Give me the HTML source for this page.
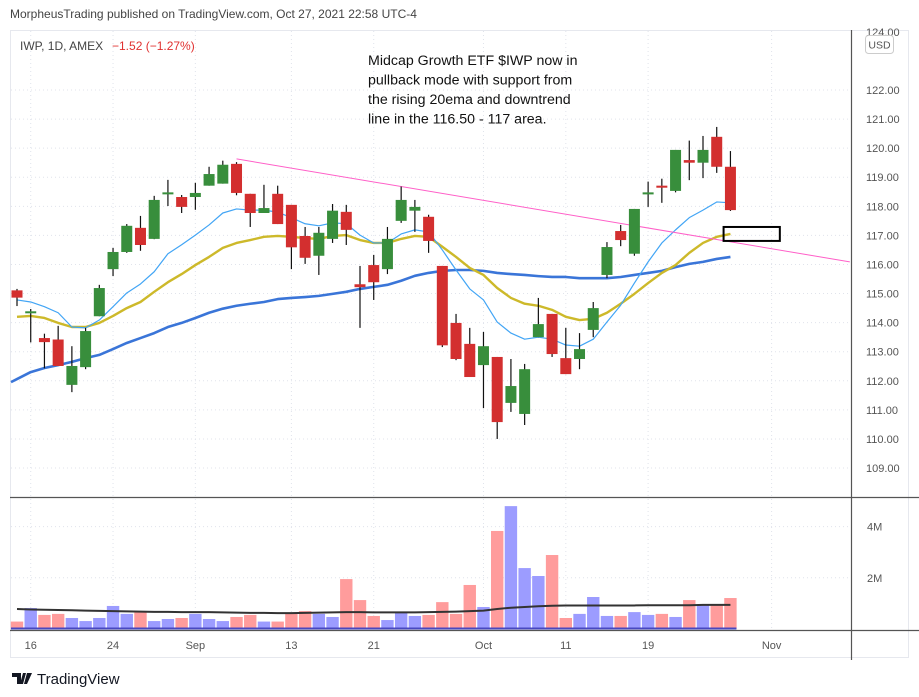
<!DOCTYPE html>
<html><head><meta charset="utf-8"><style>
html,body{margin:0;padding:0;background:#fff;width:919px;height:697px;overflow:hidden}
svg{display:block;font-family:"Liberation Sans",sans-serif}
</style></head><body>
<svg id="chart" width="919" height="697" viewBox="0 0 919 697" xmlns="http://www.w3.org/2000/svg">
<text x="10" y="18" font-size="12" fill="#444">MorpheusTrading published on TradingView.com, Oct 27, 2021 22:58 UTC-4</text>
<rect x="10.5" y="30.5" width="898" height="627" fill="none" stroke="#e6e8ee"/>
<g id="grid"></g>
<g id="vol"></g>
<g id="price"></g>
<line x1="10" y1="497.5" x2="919" y2="497.5" stroke="#555" stroke-width="1.2"/>
<line x1="10" y1="630.5" x2="919" y2="630.5" stroke="#555" stroke-width="1.2"/>
<line x1="851.5" y1="30" x2="851.5" y2="660" stroke="#555" stroke-width="1.2"/>
<g id="axes"></g>
<text x="20" y="50" font-size="12" fill="#444">IWP, 1D, AMEX</text>
<text x="112" y="50" font-size="12" fill="#e0302f">−1.52 (−1.27%)</text>
<g font-size="14.2" fill="#111">
<text x="368" y="65">Midcap Growth ETF $IWP now in</text>
<text x="368" y="84.5">pullback mode with support from</text>
<text x="368" y="104">the rising 20ema and downtrend</text>
<text x="368" y="123.5">line in the 116.50 - 117 area.</text>
</g>
<rect x="865.5" y="35.5" width="28" height="18" rx="3" fill="#fff" stroke="#ccc"/>
<text x="879.5" y="48.5" font-size="10.5" fill="#555" text-anchor="middle">USD</text>
<g>
<path d="M12 673h9v11h-4v-7h-5z M23 673h3l-3 11h-3z M27 673h5l-5 11h-3z" fill="#131722"/>
<text x="37" y="684" font-size="15" fill="#131722">TradingView</text>
</g>
</svg>
<script>
const opens=[115.11,114.35,113.47,113.42,111.86,112.47,114.22,115.84,116.43,117.26,116.88,118.43,118.32,118.32,118.71,118.78,119.46,118.43,117.77,118.43,118.05,116.98,116.30,116.88,117.81,115.32,115.98,115.84,117.50,117.85,117.64,115.95,113.99,113.27,112.54,112.82,111.24,110.86,113.50,114.30,112.78,112.75,113.75,115.64,117.15,116.37,118.41,118.71,118.53,119.59,119.50,120.39,119.36];
const highs=[115.16,114.47,113.62,113.89,113.19,113.82,115.30,116.57,117.39,117.67,118.36,118.91,118.39,118.81,119.36,119.57,119.52,118.43,118.74,118.71,118.05,117.29,117.29,118.08,118.05,115.95,116.33,117.29,118.68,118.22,117.71,115.95,114.30,113.82,113.68,112.82,112.75,112.58,114.85,114.30,113.82,113.64,114.71,116.77,117.36,117.91,118.85,118.95,119.94,120.26,120.42,120.73,119.90];
const lows=[114.57,113.32,112.43,112.51,111.61,112.40,114.22,115.60,116.40,116.47,116.87,118.01,117.77,117.88,118.71,118.78,118.38,117.29,117.77,117.39,115.84,116.02,115.64,116.74,116.67,113.82,114.78,115.67,117.43,117.12,116.40,113.16,112.71,112.13,111.06,110.00,110.93,110.48,113.50,112.82,112.23,112.40,113.50,115.53,116.63,116.30,117.98,118.12,118.48,118.90,118.97,119.15,117.84];
const closes=[114.86,114.39,113.33,112.51,112.51,113.71,115.19,116.43,117.33,116.67,118.22,118.48,117.98,118.46,119.11,119.43,118.46,117.77,117.94,117.39,116.59,116.23,117.09,117.85,117.19,115.22,115.39,116.88,118.22,117.98,116.81,113.22,112.75,112.13,113.19,110.58,111.82,112.40,113.95,112.92,112.23,113.09,114.50,116.60,116.84,117.91,118.48,118.64,119.94,119.50,119.94,119.36,117.87];
const volumes=[0.29,0.82,0.55,0.59,0.43,0.31,0.43,0.90,0.59,0.66,0.31,0.39,0.43,0.59,0.39,0.31,0.47,0.55,0.29,0.29,0.63,0.70,0.59,0.47,1.95,1.13,0.51,0.35,0.63,0.51,0.55,1.05,0.59,1.72,0.86,3.83,4.80,2.38,2.07,2.89,0.43,0.59,1.25,0.51,0.51,0.66,0.55,0.59,0.47,1.13,0.94,0.94,1.21];
const volMA=[0.78,0.76,0.75,0.74,0.73,0.72,0.71,0.70,0.69,0.68,0.67,0.67,0.66,0.66,0.66,0.65,0.64,0.63,0.63,0.62,0.62,0.63,0.64,0.65,0.66,0.66,0.65,0.65,0.65,0.65,0.66,0.67,0.68,0.70,0.72,0.78,0.83,0.86,0.89,0.91,0.92,0.92,0.92,0.92,0.92,0.92,0.93,0.93,0.93,0.93,0.94,0.94,0.94];
const ema10=[114.78,114.71,114.55,114.34,113.85,113.82,114.09,114.55,115.02,115.33,115.75,116.37,116.68,117.01,117.36,117.77,117.91,117.87,117.87,117.80,117.61,117.40,117.33,117.43,117.40,117.01,116.74,116.74,117.05,117.19,117.12,116.50,115.81,115.16,114.78,114.02,113.64,113.43,113.50,113.43,113.23,113.19,113.43,114.02,114.60,115.36,116.09,116.74,117.19,117.61,117.87,118.15,118.12];
const ema20=[114.20,114.23,114.16,113.99,113.85,113.85,113.99,114.23,114.50,114.71,115.06,115.39,115.67,115.98,116.26,116.57,116.74,116.84,116.95,116.98,116.95,116.91,116.88,116.98,117.01,116.84,116.74,116.74,116.88,116.98,116.95,116.61,116.26,115.88,115.64,115.19,114.85,114.65,114.58,114.44,114.20,114.09,114.13,114.34,114.65,114.99,115.36,115.71,115.98,116.40,116.74,116.95,117.05];
const sma50=[112.06,112.30,112.44,112.54,112.65,112.78,112.89,113.09,113.30,113.47,113.64,113.85,113.99,114.16,114.34,114.48,114.58,114.65,114.71,114.81,114.85,114.88,114.92,114.99,115.06,115.16,115.23,115.30,115.44,115.61,115.71,115.78,115.81,115.81,115.78,115.71,115.67,115.64,115.60,115.57,115.57,115.53,115.53,115.53,115.57,115.64,115.71,115.78,115.91,116.02,116.09,116.19,116.26];
const priceTicks=[124,122,121,120,119,118,117,116,115,114,113,112,111,110,109];
const volTicks=[2,4];
const volTickLabels=["2M","4M"];
const dateIdx=[1,7,13,20,26,34,40,46,55];
const dateLabels=["16","24","Sep","13","21","Oct","11","19","Nov"];
const trendStart=[16,119.63];
const trendEnd=[60.7,116.09];
const supportBox=[51.5,55.6,117.29,116.81];

const NS="http://www.w3.org/2000/svg";
const xS=i=>17+i*13.72;
const yP=p=>90+(122-p)*29.08;
const yV=v=>629-v*25.6;
function mk(parent,tag,attrs){const e=document.createElementNS(NS,tag);for(const k in attrs)e.setAttribute(k,attrs[k]);parent.appendChild(e);return e;}
const grid=document.getElementById('grid'),price=document.getElementById('price'),vol=document.getElementById('vol'),axes=document.getElementById('axes');

priceTicks.forEach(p=>{
  if(p<124){const g=mk(grid,'line',{x1:11,x2:851,y1:yP(p),y2:yP(p),stroke:'#e0e3eb','stroke-dasharray':'1 3'});
  
  }
  const t=mk(axes,'text',{x:866,y:yP(p)+4,'font-size':11,fill:'#555'});t.textContent=p.toFixed(2);
  
  
});
volTicks.forEach((v,k)=>{
  const g=mk(grid,'line',{x1:11,x2:851,y1:yV(v),y2:yV(v),stroke:'#e0e3eb','stroke-dasharray':'1 3'});
  
  
  const t=mk(axes,'text',{x:867,y:yV(v)+4,'font-size':11,fill:'#555'});t.textContent=volTickLabels[k];
  
  
});
dateIdx.forEach((d,k)=>{
  const x=xS(d);
  const g=mk(grid,'line',{x1:x,x2:x,y1:31,y2:630,stroke:'#e0e3eb','stroke-dasharray':'1 3'});
  
  
  const t=mk(axes,'text',{x:x,y:649,'font-size':11,fill:'#555','text-anchor':'middle'});t.textContent=dateLabels[k];
  
  
});

volumes.forEach((v,i)=>{
  const up=closes[i]>=opens[i];
  const r=mk(vol,'rect',{x:xS(i)-6.2,y:yV(v),width:12.4,height:629-yV(v),fill:up?'#9c9cff':'#ff9c9c'});
  
  
});
const base=mk(vol,'line',{x1:11,x2:xS(52)+6,y1:628.5,y2:628.5,stroke:'#4848c0','stroke-width':2});


const vma=mk(vol,'polyline',{points:volMA.map((v,i)=>xS(i)+','+yV(v)).join(' '),fill:'none',stroke:'#333','stroke-width':2});



function line(arr,color,w,startX){
  let pts=arr.map((p,i)=>xS(i)+','+yP(p));
  if(startX!==undefined){const slope=(arr[1]-arr[0]);pts.unshift(startX+','+yP(arr[0]-slope*(xS(0)-startX)/13.72));}
  return mk(price,'polyline',{points:pts.join(' '),fill:'none',stroke:color,'stroke-width':w,'stroke-linejoin':'round'});
}
const l50=line(sma50,'#3a75d8',2.6,11);


const l20=line(ema20,'#cdb92a',2.4);


const l10=line(ema10,'#42a5f5',1.2);



const tl=mk(price,'line',{x1:xS(trendStart[0]),y1:yP(trendStart[1]),x2:xS(trendEnd[0]),y2:yP(trendEnd[1]),stroke:'#ff5fc8','stroke-width':1});



opens.forEach((o,i)=>{
  const c=closes[i],up=c>=o,x=xS(i);
  const w=mk(price,'line',{x1:x,x2:x,y1:yP(highs[i]),y2:yP(lows[i]),stroke:'#111','stroke-width':1.2});
  
  
  const top=yP(Math.max(o,c)),h=Math.max(2,Math.abs(yP(o)-yP(c)));
  const b=mk(price,'rect',{x:x-5.5,y:top,width:11,height:h,fill:up?'#388e3c':'#d32f2f'});
  
  
});

const box=mk(price,'rect',{x:xS(supportBox[0]),y:yP(supportBox[2]),width:xS(supportBox[1])-xS(supportBox[0]),height:yP(supportBox[3])-yP(supportBox[2]),fill:'none',stroke:'#000','stroke-width':2});


</script>
</body></html>
